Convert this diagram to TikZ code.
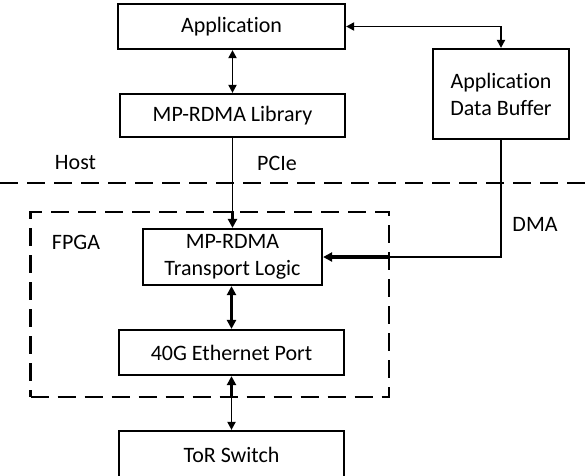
\documentclass[tikz,border=0pt]{standalone}
\usepackage{fontspec}
\setmainfont{Carlito}[Ligatures=NoCommon]
\usetikzlibrary{calc,arrows.meta}

\begin{document}
\begin{tikzpicture}[x=1pt,y=-1pt,
    box/.style={draw,line width=2.2pt,align=center,inner sep=0pt,font=\fontsize{22}{27}\selectfont},
    lbl/.style={font=\fontsize{22}{27}\selectfont},
    sep/.style={line width=2.2pt,dash pattern=on 18pt off 9pt},
    thin/.style={line width=1.9pt},
    thick/.style={line width=3.8pt},
    tip/.tip={Triangle[length=8pt,width=8pt]},
    bigtip/.tip={Triangle[length=9pt,width=9pt]}]
  \useasboundingbox (0,0) rectangle (588,475);
  % boxes
  \node[box,minimum width=227pt,minimum height=45pt] (app) at (231.5,26.5) {Application};
  \node[box,minimum width=225pt,minimum height=43pt] (lib) at (232.5,115.5) {MP-RDMA Library};
  \node[box,minimum width=136pt,minimum height=90pt] (buf) at (501,94) {Application\\Data Buffer};
  \node[box,minimum width=179pt,minimum height=56pt] (tl) at (232.5,257) {MP-RDMA\\Transport Logic};
  \node[box,minimum width=225pt,minimum height=45pt] (eth) at (231.5,352.5) {40G Ethernet Port};
  \node[box,minimum width=225pt,minimum height=48pt] (tor) at (231.5,455) {ToR Switch};
  % host / fpga split
  \draw[sep] (0,183) -- (588,183);
  \node[sep,draw,minimum width=358.5pt,minimum height=185pt] (fpga) at (209.75,304.5) {};
  \node[lbl] (host) at (75.5,163) {Host};
  \node[lbl] (pcie) at (277,163) {PCIe};
  \node[lbl] (fpgalbl) at (76,242) {FPGA};
  \node[lbl] (dma) at (535,224) {DMA};
  % connectors
  \coordinate (pcieIn) at (tl.north |- fpga.north);
  \coordinate (dmaTop) at (buf.south |- tl.east);
  \coordinate (dmaIn) at (fpga.east |- tl.east);
  \coordinate (ethOut) at (eth.south |- fpga.south);
  \coordinate (bufTop) at (buf.north |- app.east);
  \draw[thin,{tip}-{tip}] (app.east) -- (bufTop) -- (buf.north);
  \draw[thin,{tip}-{tip}] (app.south -| lib.north) -- (lib.north);
  \draw[thin] (lib.south -| pcieIn) -- (pcieIn);
  \draw[thick,-{bigtip}] (pcieIn) -- (tl.north -| pcieIn);
  \draw[thin] (buf.south) -- (dmaTop) -- (dmaIn);
  \draw[thick,-{bigtip}] (dmaIn) -- (tl.east);
  \draw[thick,{bigtip}-{bigtip}] (tl.south -| eth.north) -- (eth.north);
  \draw[thick,{bigtip}-] (eth.south) -- (ethOut);
  \draw[thin,-{tip}] (ethOut) -- (tor.north);
\end{tikzpicture}
\end{document}
